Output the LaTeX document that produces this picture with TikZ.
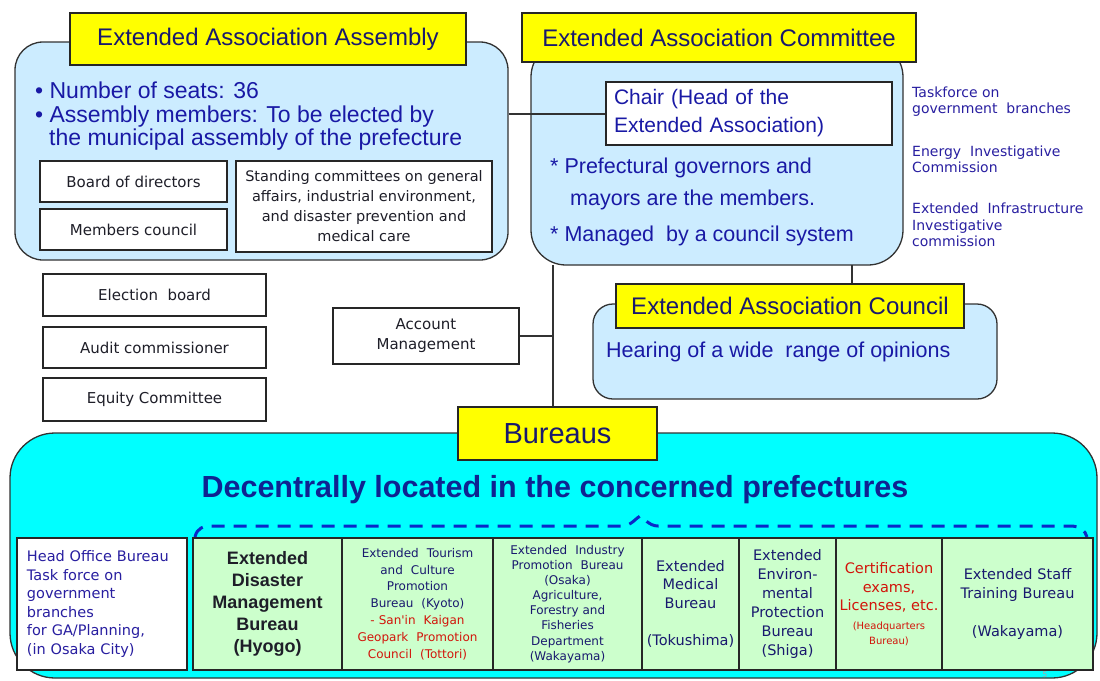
\documentclass[tikz,border=0pt]{standalone}
\usepackage{fontspec}
\setmainfont{Liberation Sans}
\newfontfamily\dv{DejaVu Sans}
\usetikzlibrary{calc}
\definecolor{lblue}{RGB}{204,236,255}
\definecolor{ylw}{RGB}{255,255,0}
\definecolor{cyanf}{RGB}{0,255,255}
\definecolor{lgreen}{RGB}{204,255,204}
\definecolor{navy}{RGB}{25,25,110}
\definecolor{txtblue}{RGB}{25,25,165}
\definecolor{smblue}{RGB}{40,30,160}
\definecolor{decblue}{RGB}{15,35,145}
\definecolor{dashblue}{RGB}{10,40,200}
\definecolor{redt}{RGB}{210,20,10}
\definecolor{lineg}{RGB}{50,50,50}
\definecolor{darkt}{RGB}{30,30,40}
\newcommand{\fsz}[2]{\fontsize{#1}{#2}\selectfont}
\begin{document}
\begin{tikzpicture}[x=1pt,y=-1pt,
  panel/.style={draw=lineg, line width=1.3pt, fill=lblue, rounded corners=28pt},
  ttl/.style={draw=black!85, line width=1.3pt, fill=ylw, text=navy, inner sep=0pt, align=center, font=\fsz{24}{28}},
  wbox/.style={draw=black!85, line width=1.3pt, fill=white, inner sep=0pt, align=center, text=darkt, font=\dv\fsz{15}{20}},
  gbox/.style={draw=black!85, line width=1.3pt, fill=lgreen, inner sep=0pt, align=center, text=navy},
  conn/.style={draw=lineg, line width=2pt},
  txt/.style={inner sep=0pt, anchor=west},
  brace/.style={draw=dashblue, line width=3pt, dash pattern=on 13pt off 9pt}]
\useasboundingbox (0,0) rectangle (1100,680);

% ---------- panels ----------
\node[panel, minimum width=493pt, minimum height=218pt, inner sep=0pt] (asm) at (261.5,151) {};
\node[panel, rounded corners=35pt, minimum width=372pt, minimum height=223pt, inner sep=0pt] (com) at (717,153.5) {};
\node[panel, rounded corners=20pt, minimum width=404pt, minimum height=95pt, inner sep=0pt] (cou) at (795,351.5) {};
\node[panel, fill=cyanf, rounded corners=45pt, minimum width=1087pt, minimum height=245pt, inner sep=0pt] (bpanel) at (553.5,555.5) {};

% ---------- connectors ----------
\coordinate (jt) at (553,265);
\coordinate (jc) at (852,265);

% ---------- titles ----------
\node[ttl, minimum width=396pt, minimum height=52pt] (asmt) at (268,39) {Extended Association Assembly};
\node[ttl, minimum width=394pt, minimum height=49pt] (comt) at (719,37.5) {Extended Association Committee};
\node[ttl, minimum width=348pt, minimum height=44pt] (cout) at (790,306) {Extended Association Council};
\node[ttl, minimum width=199pt, minimum height=53pt, font=\fsz{29}{32}] (burt) at (557.5,433.5) {Bureaus};

% ---------- assembly ----------
\node[txt, text=txtblue, font=\fsz{23}{24}] (ab1) at (35,90) {\textbullet\ Number of seats: 36};
\node[txt, text=txtblue, font=\fsz{23}{24}] (ab2) at (35,117) {\textbullet\ Assembly members: To be elected by};
\node[txt, text=txtblue, font=\fsz{23}{24}] (ab3) at (49,140) {the municipal assembly of the prefecture};
\node[wbox, minimum width=187pt, minimum height=41pt] (bod) at (133.5,181.5) {Board of directors};
\node[wbox, minimum width=187pt, minimum height=41pt] (mc) at (133.5,229.5) {Members council};
\node[wbox, minimum width=256pt, minimum height=91pt, font=\dv\fsz{14.5}{20}] (std) at (364,206.5)
  {Standing committees on general\\ affairs, industrial environment,\\ and disaster prevention and\\ medical care};

% ---------- committee ----------
\node[draw=black!85, line width=1.3pt, fill=white, minimum width=286pt, minimum height=63pt, text width=270pt, inner xsep=8pt, inner ysep=0pt, align=left, text=txtblue, font=\fsz{21}{28}] (chair) at (749,113.5)
  {\raisebox{4pt}{\parbox{270pt}{Chair (Head of the\\ Extended Association)}}};
\node[txt, text=txtblue, font=\fsz{21.5}{26}] (cb1) at (550,168) {* Prefectural governors and};
\node[txt, text=txtblue, font=\fsz{21.5}{26}] (cb2) at (570,200) {mayors are the members.};
\node[txt, text=txtblue, font=\fsz{21.5}{26}] (cb3) at (550,236) {* Managed\ \ by a council system};
\node[txt, align=left, text=smblue, font=\dv\fsz{14}{16.5}] (tf1) at (912,101.5) {Taskforce on\\ government\ \ branches};
\node[txt, align=left, text=smblue, font=\dv\fsz{14}{16.5}] (tf2) at (912,159.5) {Energy\ \ Investigative\\ Commission};
\node[txt, align=left, text=smblue, font=\dv\fsz{14}{16.5}] (tf3) at (912,225) {Extended\ \ Infrastructure\\ Investigative\\ commission};

% ---------- council ----------
\node[txt, text=txtblue, font=\fsz{21.5}{26}] (hear) at (606,352) {Hearing of a wide\ \ range of opinions};

% ---------- left boxes ----------
\node[wbox, minimum width=223pt, minimum height=42pt] (elb) at (154.5,295) {Election\ \ board};
\node[wbox, minimum width=223pt, minimum height=41pt] (aud) at (154.5,347.5) {Audit commissioner};
\node[wbox, minimum width=223pt, minimum height=43pt] (equ) at (154.5,399.5) {Equity Committee};
\node[wbox, minimum width=186pt, minimum height=56pt] (acc) at (426,336) {Account\\ Management};

% ---------- connectors drawn ----------
\draw[conn] (asm.east |- chair.west) -- (chair.west);
\draw[conn] (jt) -- (jt |- burt.north);
\draw[conn] (acc.east) -- (acc.east -| jt);
\draw[conn] (jc) -- (jc |- cout.north);

% ---------- bureaus ----------
\node[inner sep=0pt, text=decblue, font=\bfseries\fsz{30.5}{34}] (dec) at (555,490) {Decentrally located in the concerned prefectures};
\draw[brace] (195,537) .. controls (197,528) and (203,526) .. (212,526) -- (622,526)
  .. controls (631,526) and (636,518) .. (640,516) .. controls (644,518) and (649,526) .. (658,526)
  -- (1070,526) .. controls (1080,526) and (1085,530) .. (1087,537);

\node[wbox, minimum width=170pt, minimum height=132pt, text width=150pt, align=left, text=smblue, font=\dv\fsz{14.5}{18.6}] (hob) at (102,604)
  {Head Office Bureau\\ Task force on\\ government\\ branches\\ for GA/Planning,\\ (in Osaka City)};
\node[gbox, minimum width=149pt, minimum height=132pt, text width=145pt, text=darkt, font=\bfseries\fsz{18}{22}] (hyo) at (267.5,604)
  {Extended\\ Disaster\\ Management\\ Bureau\\ (Hyogo)};
\node[gbox, minimum width=151pt, minimum height=132pt, text width=147pt, font=\dv\fsz{12}{16.8}] (tou) at (417.5,604)
  {Extended\ \ Tourism\\ and\ \ Culture\\ Promotion\\ Bureau\ \ (Kyoto)\\ \textcolor{redt}{- San'in\ \ Kaigan}\\ \textcolor{redt}{Geopark\ \ Promotion}\\ \textcolor{redt}{Council\ \ (Tottori)}};
\node[gbox, minimum width=149pt, minimum height=132pt, text width=145pt, font=\dv\fsz{12}{15.1}] (ind) at (567.5,604)
  {Extended\ \ Industry\\ Promotion\ \ Bureau\\ (Osaka)\\ Agriculture,\\ Forestry and\\ Fisheries\\ Department\\ (Wakayama)};
\node[gbox, minimum width=97pt, minimum height=132pt, text width=95pt, font=\dv\fsz{14.5}{18.7}] (med) at (690.5,604)
  {Extended\\ Medical\\ Bureau\\[18.7pt] (Tokushima)};
\node[gbox, minimum width=97pt, minimum height=132pt, text width=95pt, font=\dv\fsz{14.5}{19}] (env) at (787.5,604)
  {Extended\\ Environ-\\ mental\\ Protection\\ Bureau\\ (Shiga)};
\node[gbox, minimum width=106pt, minimum height=132pt, text width=104pt, text=redt, font=\dv\fsz{14.5}{18.5}] (cer) at (889,604)
  {Certification\\ exams,\\ Licenses, etc.\\ {\fsz{10}{12}(Headquarters}\\[-3.5pt] {\fsz{10}{12}Bureau)}};
\node[gbox, minimum width=151pt, minimum height=132pt, text width=147pt, font=\dv\fsz{14.5}{18.7}] (stf) at (1017.5,604)
  {Extended Staff\\ Training Bureau\\[18.7pt] (Wakayama)};
\node[inner sep=0pt, text=black!35, font=\dv\fsz{8}{9}] (pg) at (1045,675) {5};
\end{tikzpicture}
\end{document}
